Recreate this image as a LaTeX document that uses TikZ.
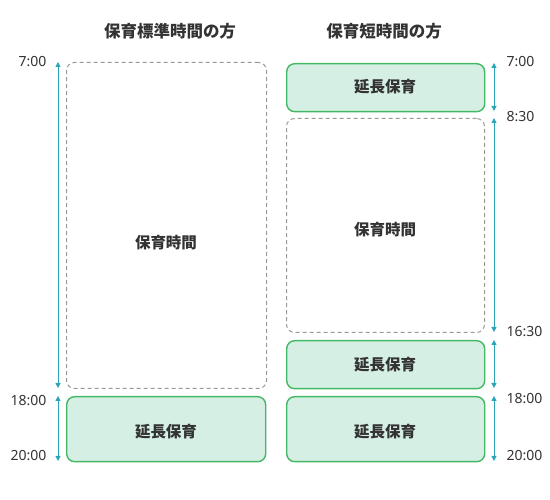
\documentclass[tikz,border=0pt]{standalone}
\usepackage{fontspec}
\setmainfont{Noto Sans CJK JP}
\newfontfamily\latinfont{Noto Sans}
\usetikzlibrary{arrows.meta}
\definecolor{txt}{HTML}{333333}
\definecolor{teal}{HTML}{2AA5B8}
\definecolor{gborder}{HTML}{45B866}
\definecolor{gfill}{HTML}{D5EFE4}
\definecolor{dgray}{HTML}{999999}
\begin{document}
\begin{tikzpicture}[x=1pt,y=-1pt,
  every node/.style={text=txt},
  carebox/.style={draw=dgray, dashed, dash pattern=on 4pt off 3pt, line width=1pt, rounded corners=8pt, anchor=north west, inner sep=0pt},
  extbox/.style={draw=gborder, fill=gfill, line width=1.4pt, rounded corners=8pt, anchor=north west, inner sep=0pt},
  boxtext/.style={font=\fontsize{15.5}{18}\selectfont\bfseries},
  title/.style={font=\fontsize{16.5}{19}\selectfont\bfseries},
  timel/.style={font=\latinfont\fontsize{14}{17}\selectfont, text=txt},
  span/.style={draw=teal, line width=1pt, {Triangle[width=5pt,length=5pt]}-{Triangle[width=5pt,length=5pt]}}
]
\useasboundingbox (0,0) rectangle (550,500);
% titles
\node[title] (t1) at (170,31) {保育標準時間の方};
\node[title] (t2) at (384,31) {保育短時間の方};
% left column
\node[carebox, minimum width=200pt, minimum height=326pt] (L1) at (66,62) {};
\node[boxtext] (L1t) at (166,243) {保育時間};
\node[extbox, minimum width=199pt, minimum height=65pt] (L2) at (66,396) {};
\node[boxtext] (L2t) at (166,432) {延長保育};
% right column
\node[extbox, minimum width=198pt, minimum height=48pt] (R1) at (286,63) {};
\node[boxtext] (R1t) at (385,87) {延長保育};
\node[carebox, minimum width=198pt, minimum height=214pt] (R2) at (286,118) {};
\node[boxtext] (R2t) at (385,230) {保育時間};
\node[extbox, minimum width=198pt, minimum height=48pt] (R3) at (286,340) {};
\node[boxtext] (R3t) at (385,365) {延長保育};
\node[extbox, minimum width=198pt, minimum height=65pt] (R4) at (286,396) {};
\node[boxtext] (R4t) at (385,432) {延長保育};
% left arrows
\coordinate (la1) at (58,62);
\coordinate (la2) at (58,388);
\coordinate (la3) at (58,396);
\coordinate (la4) at (58,461);
\draw[span] (la1) -- (la2);
\draw[span] (la3) -- (la4);
% right arrows
\coordinate (ra1) at (494,63);
\coordinate (ra2) at (494,111);
\coordinate (ra3) at (494,118);
\coordinate (ra4) at (494,332);
\coordinate (ra5) at (494,340);
\coordinate (ra6) at (494,388);
\coordinate (ra7) at (494,396);
\coordinate (ra8) at (494,461);
\draw[span] (ra1) -- (ra2);
\draw[span] (ra3) -- (ra4);
\draw[span] (ra5) -- (ra6);
\draw[span] (ra7) -- (ra8);
% left time labels
\node[timel, anchor=east] (lt1) at (50,62) {7:00};
\node[timel, anchor=east] (lt2) at (50,401) {18:00};
\node[timel, anchor=east] (lt3) at (50,456) {20:00};
% right time labels
\node[timel, anchor=west] (rt1) at (503,62) {7:00};
\node[timel, anchor=west] (rt2) at (503,117) {8:30};
\node[timel, anchor=west] (rt3) at (503,332) {16:30};
\node[timel, anchor=west] (rt4) at (503,399) {18:00};
\node[timel, anchor=west] (rt5) at (503,456) {20:00};
\end{tikzpicture}
\end{document}
